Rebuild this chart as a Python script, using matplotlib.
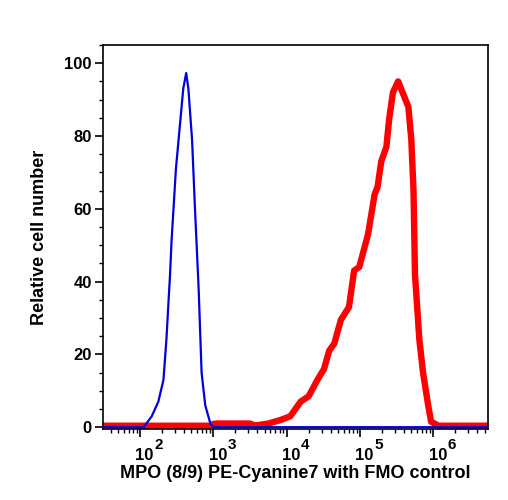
import numpy as np
import matplotlib.pyplot as plt
from matplotlib.ticker import LogLocator, MultipleLocator, NullFormatter

plt.rcParams['font.family'] = ['Liberation Sans', 'DejaVu Sans']
plt.rcParams['font.weight'] = 'bold'

# FMO control (blue), log10 of fluorescence and relative count
fmo_log = [1.49, 2.05, 2.16, 2.25, 2.32, 2.36, 2.41, 2.43, 2.49, 2.54, 2.59, 2.63,
           2.66, 2.71, 2.75, 2.80, 2.84, 2.89, 2.96, 3.00, 6.75]
fmo_cnt = [0, 0, 3, 7, 13, 24, 42, 51, 71, 82, 93, 97.3,
           93, 79, 60, 38, 15, 6, 1, 0, 0]

# MPO stained sample (red)
mpo_log = [1.49, 2.95, 3.00, 3.05, 3.50, 3.56, 3.62, 3.75, 3.92, 4.05, 4.19, 4.30,
           4.42, 4.51, 4.58, 4.65, 4.74, 4.85, 4.92, 4.99, 5.11, 5.20, 5.24, 5.29,
           5.36, 5.40, 5.45, 5.52, 5.56, 5.60, 5.66, 5.70, 5.73, 5.75, 5.81, 5.86,
           5.93, 5.97, 6.07, 6.75]
mpo_cnt = [0.4, 0.4, 0.9, 1.0, 1.0, 0.5, 0.6, 1.0, 2, 3, 7, 8.5,
           13, 16, 21, 23, 29.5, 33, 43, 44, 53, 64, 66, 73,
           77, 85, 92, 95, 93, 91, 88, 79, 65, 42, 24, 15,
           6, 1.5, 0.4, 0.4]

decades = [2, 3, 4, 5, 6]

fig = plt.figure(figsize=(5.08, 5.0), dpi=100)
ax = fig.add_axes([103/508, 1-429/500, 385/508, 384/500])

ax.plot(np.power(10.0, fmo_log), fmo_cnt, color='#0000dd', lw=1.6, zorder=3)
ax.plot(np.power(10.0, mpo_log), mpo_cnt, color='#ff0000', lw=4.6, zorder=2,
        solid_joinstyle='round')

ax.set_xscale('log')
ax.set_xlim(31.3, 5.57e6)
ax.set_ylim(-0.5, 105)

ax.xaxis.set_minor_locator(LogLocator(base=10, subs=np.arange(2, 10), numticks=20))
ax.xaxis.set_minor_formatter(NullFormatter())
ax.set_xticks([10.0**e for e in decades])
ax.set_xticklabels([])
ax.yaxis.set_major_locator(MultipleLocator(20))
ax.yaxis.set_minor_locator(MultipleLocator(5))

ax.tick_params(which='major', direction='out', length=6, width=1.2, labelsize=12, pad=2)
ax.tick_params(which='minor', direction='out', length=3, width=1.0)
ax.tick_params(top=False, right=False)
for s in ax.spines.values():
    s.set_linewidth(1.2)

# decade labels drawn as base + raised exponent
for e in decades:
    ax.annotate('10', xy=(10.0**e, 0), xycoords=('data', 'axes fraction'),
                xytext=(4.5, -31), textcoords='offset pixels',
                ha='center', va='baseline', fontsize=12, fontweight='bold')
    ax.annotate(str(e), xy=(10.0**e, 0), xycoords=('data', 'axes fraction'),
                xytext=(14.5, -20), textcoords='offset pixels',
                ha='left', va='baseline', fontsize=11, fontweight='bold')

ax.set_xlabel('MPO (8/9) PE-Cyanine7 with FMO control', fontsize=13,
              fontweight='bold')
ax.xaxis.set_label_coords(0.5, -0.095)
ax.set_ylabel('Relative cell number', fontsize=13, fontweight='bold', labelpad=12)

plt.savefig('out.png', dpi=100)
plt.close()
